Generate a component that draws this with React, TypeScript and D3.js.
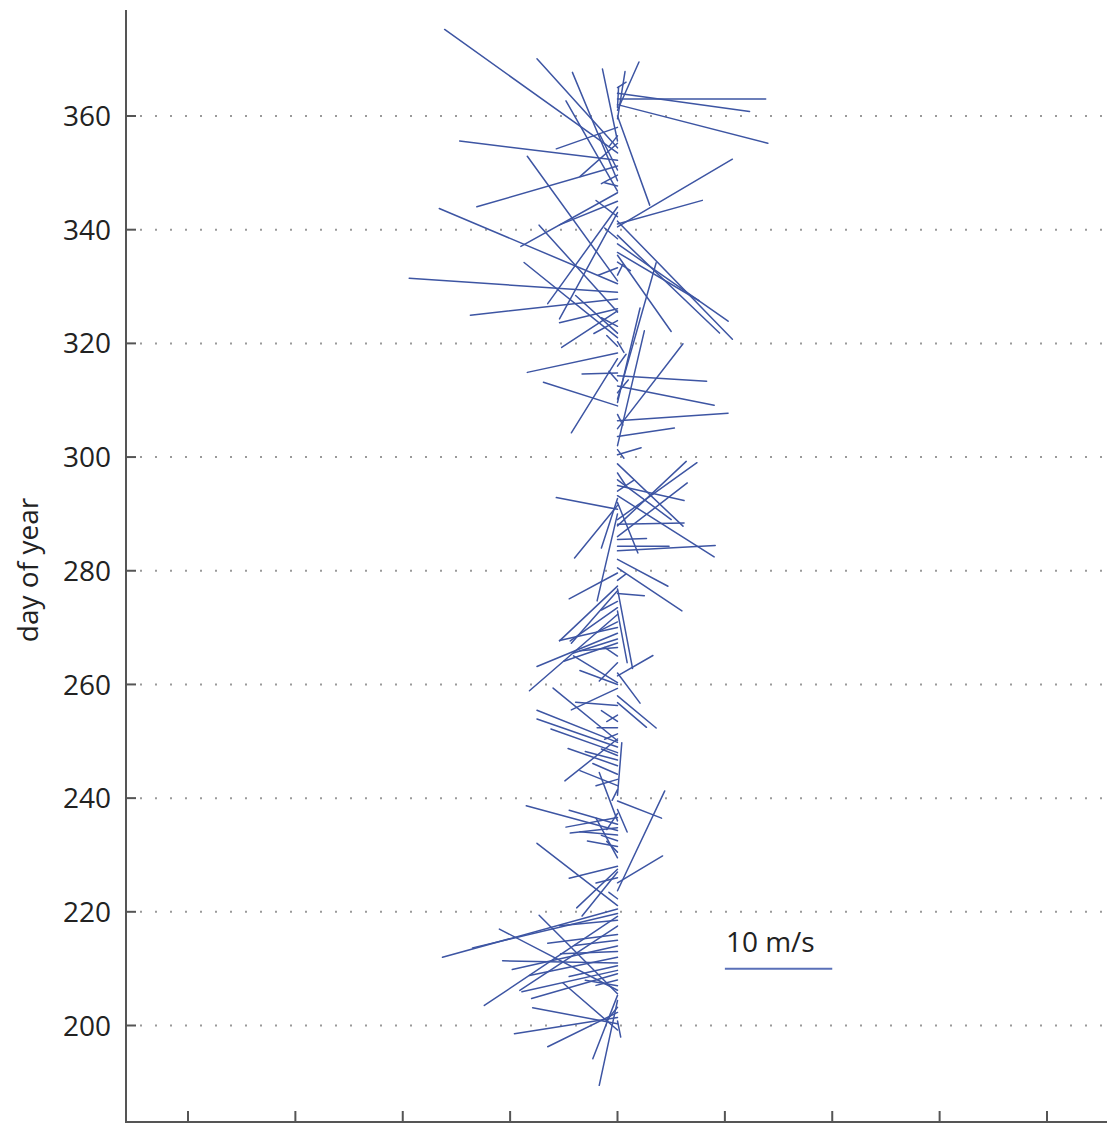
import React from "react";
import * as d3 from "d3";

// Wind stick series: origin day and the (u, v) wind components in m/s
const days = [
  199.2, 200.3, 200.8, 201.4, 202.3, 203.2, 204.4, 205.3, 205.6, 206.2,
  207, 208, 209.1, 209.7, 210.5, 211, 212, 213, 214, 215,
  216, 217.5, 218.5, 219.2, 219.7, 220.5, 221.1, 222.3, 223.7, 225.1,
  226, 227, 227.5, 228, 229.5, 230.5, 231.5, 232.5, 233.5, 234.3,
  234.8, 235.4, 236, 236.6, 237.3, 238, 239.5, 240.5, 241.5, 242.2,
  243.3, 244.2, 245.7, 246.7, 247.5, 248, 249, 249.8, 250.1, 250.4,
  251.3, 252.4, 253.5, 254.6, 256.3, 256.8, 258, 259.3, 260, 260.3,
  261.5, 262, 263.8, 265, 266.5, 267.3, 268, 269, 270, 271,
  272.3, 272.9, 273.5, 274.6, 276, 276.5, 276.8, 277.3, 278.3, 279.6,
  280.5, 282, 283.5, 284.3, 285.5, 286, 287.9, 288.2, 289, 290,
  290.8, 291.5, 292, 292.7, 293.2, 294, 295, 296, 297.2, 298.8,
  300.4, 301.3, 302, 303.6, 305, 306.4, 307.5, 309, 309.6, 310.2,
  311.3, 312.5, 313.4, 314.3, 314.8, 316, 317.3, 318.3, 319.5, 320.3,
  321, 321.8, 323, 324, 325.5, 325.7, 326.1, 327.8, 329, 330.5,
  331, 332, 333.3, 334.3, 335.5, 336, 337.5, 338.4, 339, 340.5,
  341, 341.5, 342.3, 343, 344, 345, 346.5, 346.8, 347.7, 348.6,
  349.6, 350.5, 351.2, 352.2, 353.5, 354.4, 355.2, 355.6, 356.5, 358,
  359.5, 360, 361, 361.5, 362, 363, 364, 365,
];

const uWind = [
  -5.1, -7.9, 0.3, -9.6, -6.5, -1.0, -1.7, -2.3, -7.3, -11.0,
  -3.0, -2.0, -8.0, -8.9, -4.5, -10.7, -8.2, -5.3, -9.8, -4.0,
  -6.5, -9.1, -5.4, -12.4, -13.5, -16.3, -7.5, -0.8, 4.4, 4.2,
  -2.0, -3.3, -3.8, -4.5, -2.0, -1.0, -2.8, -1.5, -3.5, -8.5,
  -4.4, -4.5, -1.7, -4.8, -1.0, 0.9, 4.1, 0.4, -0.5, -3.5,
  -2.0, -2.3, -4.6, -3.0, -1.5, -6.2, -7.5, -7.5, -6.0, -4.9,
  -1.2, -1.9, -1.5, -1.0, -3.9, 2.7, 3.6, -4.3, -3.5, -4.1,
  3.3, 2.1, -1.7, -1.2, -3.5, -5.0, -4.1, -7.5, -5.4, -2.0,
  -8.2, 0.9, -4.4, -1.5, 2.5, -4.3, 1.4, -5.4, 0.8, -4.5,
  6.0, 4.7, 9.1, 4.8, 2.7, 6.5, 6.4, 6.2, 7.4, -1.9,
  -5.7, -4.0, 1.9, -1.5, 9.0, 1.5, 6.2, 5.0, 0.8, 6.1,
  2.2, 0.6, 2.5, 5.3, 6.1, 10.3, 0.5, -6.9, 2.1, 3.6,
  1.0, 9.0, -0.8, 8.3, -3.3, 0.8, -4.3, -8.4, -1.0, 0.6,
  -8.7, -3.9, -1.5, -2.2, -7.3, -5.2, -5.4, -13.7, -19.4, -16.6,
  -8.4, 0.5, -1.8, 1.2, 5.0, 7.6, 10.3, -1.2, 9.5, 10.7,
  7.9, 10.7, -2.0, -5.4, -6.5, -5.4, -9.0, -4.8, -1.2, -4.2,
  -1.5, -1.7, -13.1, -14.7, -16.1, -7.5, -3.5, -1.4, -0.8, -5.7,
  0.7, 3.0, 2.0, 0.1, 14.0, 13.8, 12.3, 0.8,
];

const vWind = [
  4.4, 1.5, -1.5, -1.5, -3.2, -1.2, -7.9, -5.9, 7.3, 5.7,
  0.5, -0.5, -2.3, -2.0, -1.0, 0.2, -1.7, -0.2, -2.2, -0.5,
  -0.8, -6.0, -0.5, -8.3, -3.2, -4.5, 5.8, 0.6, 9.3, 2.5,
  -0.5, -4.1, -3.6, -1.1, 3.7, 1.0, 0.5, 0.5, 0.3, 2.3,
  -0.5, 1.3, 4.5, -0.9, -1.5, -2.1, -1.6, 4.9, -1.0, 1.4,
  -0.6, 1.0, 1.6, 0.8, 0.6, 2.2, 2.6, 3.0, 4.9, -3.9,
  -0.5, 0.0, 1.0, -0.6, 0.3, -2.3, -3.0, -2.0, 1.3, 2.5,
  1.9, -2.8, -1.7, 0.8, -0.3, -1.7, -1.3, -3.1, -1.2, -1.0,
  -7.1, -4.8, -3.1, -0.8, -0.2, -4.9, -7.4, -5.1, 0.6, -2.4,
  -4.0, -2.5, 0.5, 0.0, 0.1, 5.0, 6.0, 0.1, 5.3, -8.1,
  1.1, -4.9, -4.7, -4.6, -5.7, 1.0, -1.4, -3.7, -1.2, -5.8,
  0.65, -0.8, 10.7, 0.8, 7.9, 0.7, -1.0, 2.2, 8.8, 12.7,
  1.2, -1.8, 0.9, -0.5, -0.1, 1.1, -6.9, -1.8, 1.0, -1.0,
  7.0, 3.5, 0.8, -1.2, 8.1, -3.4, -1.3, -1.5, 1.3, 7.0,
  11.6, 1.0, -0.7, -0.8, -7.1, -4.5, -7.2, 1.0, -9.1, 6.3,
  2.2, -11.0, 1.5, -9.9, -9.0, -2.2, -5.0, 8.4, 0.3, 10.1,
  -0.8, 3.4, -3.8, 1.8, 11.5, 8.3, -3.1, 6.7, -1.0, -2.0,
  4.4, -8.3, 4.5, 1.9, -3.6, 0.0, -1.7, 0.5,
];

const dayTicks = [200, 220, 240, 260, 280, 300, 320, 340, 360];
const speedTicks = [-40, -30, -20, -10, 0, 10, 20, 30, 40];

// Reference arrow: 10 m/s drawn from u = 10 to u = 20 at day 210
const scaleSpeed = 10;
const scaleStartU = 10;
const scaleDay = 210;
const scaleLabel = "10 m/s";

const W = 1107;
const H = 1124;
const FONT = "'Open Sans', 'DejaVu Sans', sans-serif";
const FS = 28;

export default function App() {
  const x = d3.scaleLinear().domain([-40, 40]).range([188, 1047]);
  const y = d3.scaleLinear().domain([200, 360]).range([1025.5, 116]);
  const k = x(1) - x(0); // pixels per m/s, same for both components

  const axisLeft = 126;
  const axisBottom = 1122;
  const axisTop = 10;

  const sticks = days.map((d, i) => ({
    x1: x(0),
    y1: y(d),
    x2: x(0) + uWind[i] * k,
    y2: y(d) - vWind[i] * k,
  }));

  return (
    <div style={{ position: "absolute", left: 0, top: 0 }}>
      <svg width={W} height={H} style={{ display: "block", background: "#fff" }}>
        {/* dotted gridlines */}
        {dayTicks.map((t) => (
          <line
            key={"g" + t}
            x1={140}
            x2={W}
            y1={y(t)}
            y2={y(t)}
            stroke="#9a9a9a"
            strokeWidth={2}
            strokeDasharray="2 13"
          />
        ))}

        {/* wind sticks */}
        <g stroke="#3d55a3" strokeWidth={1.5} strokeLinecap="round">
          {sticks.map((s, i) => (
            <line key={i} x1={s.x1} y1={s.y1} x2={s.x2} y2={s.y2} />
          ))}
        </g>

        {/* scale bar */}
        <line
          x1={x(scaleStartU)}
          x2={x(scaleStartU + scaleSpeed)}
          y1={y(scaleDay)}
          y2={y(scaleDay)}
          stroke="#5a70b8"
          strokeWidth={2}
        />
        <text
          x={x(scaleStartU) + 1}
          y={y(scaleDay) - 17}
          fontFamily={FONT}
          fontSize={FS}
          fill="#222"
        >
          {scaleLabel}
        </text>

        {/* axes */}
        <line x1={axisLeft} x2={axisLeft} y1={axisTop} y2={axisBottom} stroke="#555" strokeWidth={2} />
        <line x1={axisLeft - 1} x2={W} y1={axisBottom} y2={axisBottom} stroke="#555" strokeWidth={2} />

        {dayTicks.map((t) => (
          <g key={"yt" + t}>
            <line x1={axisLeft} x2={axisLeft + 10} y1={y(t)} y2={y(t)} stroke="#555" strokeWidth={2} />
            <text
              x={111}
              y={y(t)}
              dy="0.36em"
              textAnchor="end"
              fontFamily={FONT}
              fontSize={FS}
              fill="#222"
            >
              {t}
            </text>
          </g>
        ))}

        {speedTicks.map((t) => (
          <line
            key={"xt" + t}
            x1={x(t)}
            x2={x(t)}
            y1={axisBottom}
            y2={axisBottom - 11}
            stroke="#555"
            strokeWidth={2}
          />
        ))}

        <text
          transform={`translate(38, ${(axisTop + axisBottom) / 2 + 4}) rotate(-90)`}
          textAnchor="middle"
          fontFamily={FONT}
          fontSize={FS}
          fill="#222"
        >
          day of year
        </text>
      </svg>
    </div>
  );
}
